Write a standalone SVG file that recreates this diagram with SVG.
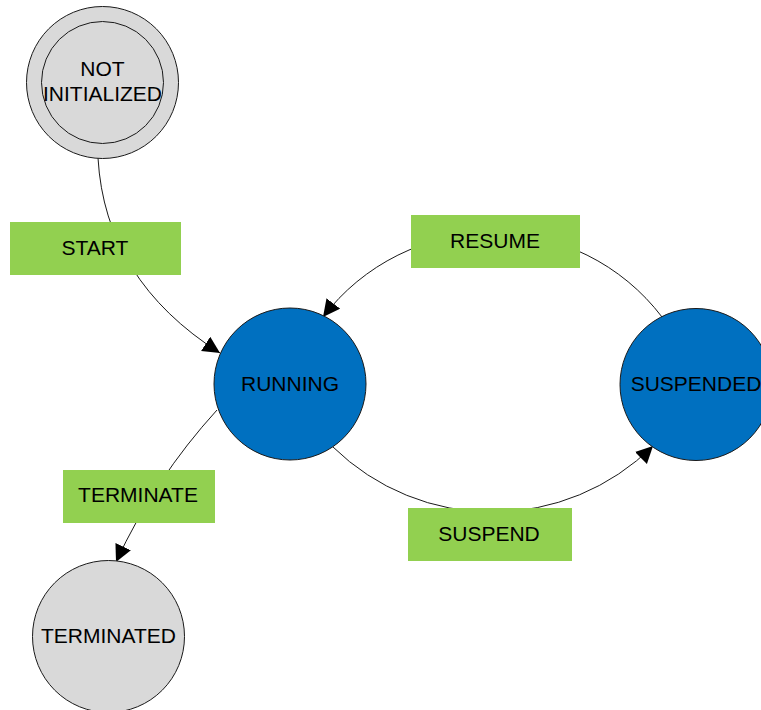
<svg xmlns="http://www.w3.org/2000/svg" width="761" height="710" viewBox="0 0 761 710">
<style>
.edge{fill:none;stroke:#1a1a1a;stroke-width:1;marker-end:url(#arr)}
.lbl{fill:#92d050;stroke:none}
.t{font-family:"Liberation Sans",Arial,sans-serif;font-size:21px;fill:#000;text-anchor:middle}
.gray{fill:#d9d9d9;stroke:#1a1a1a;stroke-width:1}
.blue{fill:#0070c0;stroke:#1a1a1a;stroke-width:1}
</style>
<defs>
<marker id="arr" markerUnits="userSpaceOnUse" markerWidth="18" markerHeight="18" refX="17" refY="8.5" orient="auto">
<path d="M0,0 L17,8.5 L0,17 z" fill="#000"/>
</marker>
</defs>
<g id="connectors">
<path class="edge" d="M98,158 Q105,280 220,353"/>
<path class="edge" d="M662,317 A213,213 0 0,0 323,317"/>
<path class="edge" d="M333,447 A228,228 0 0,0 653,446"/>
<path class="edge" d="M217,410 Q155,478 116,562"/>
<g id="label-start"><rect class="lbl" x="10" y="222" width="171" height="53"/><text class="t" x="95" y="255">START</text></g>
<g id="label-resume"><rect class="lbl" x="411" y="215" width="169" height="53"/><text class="t" x="495" y="248">RESUME</text></g>
<g id="label-suspend"><rect class="lbl" x="408" y="508" width="164" height="53"/><text class="t" x="489" y="541">SUSPEND</text></g>
<g id="label-terminate"><rect class="lbl" x="63" y="470" width="152" height="53"/><text class="t" x="138" y="502">TERMINATE</text></g>
</g>
<g id="not-initialized">
<circle class="gray" cx="102.5" cy="82.5" r="76"/>
<circle class="gray" cx="102.5" cy="82.5" r="61"/>
<text class="t" x="102.5" y="76">NOT</text>
<text class="t" x="102.5" y="101">INITIALIZED</text>
</g>
<g id="running">
<circle class="blue" cx="290" cy="384" r="76"/>
<text class="t" x="290" y="391">RUNNING</text>
</g>
<g id="suspended">
<circle class="blue" cx="696" cy="384.5" r="76"/>
<text class="t" x="696" y="391">SUSPENDED</text>
</g>
<g id="terminated">
<circle class="gray" cx="108.5" cy="636.5" r="76"/>
<text class="t" x="108.5" y="643">TERMINATED</text>
</g>
</svg>
